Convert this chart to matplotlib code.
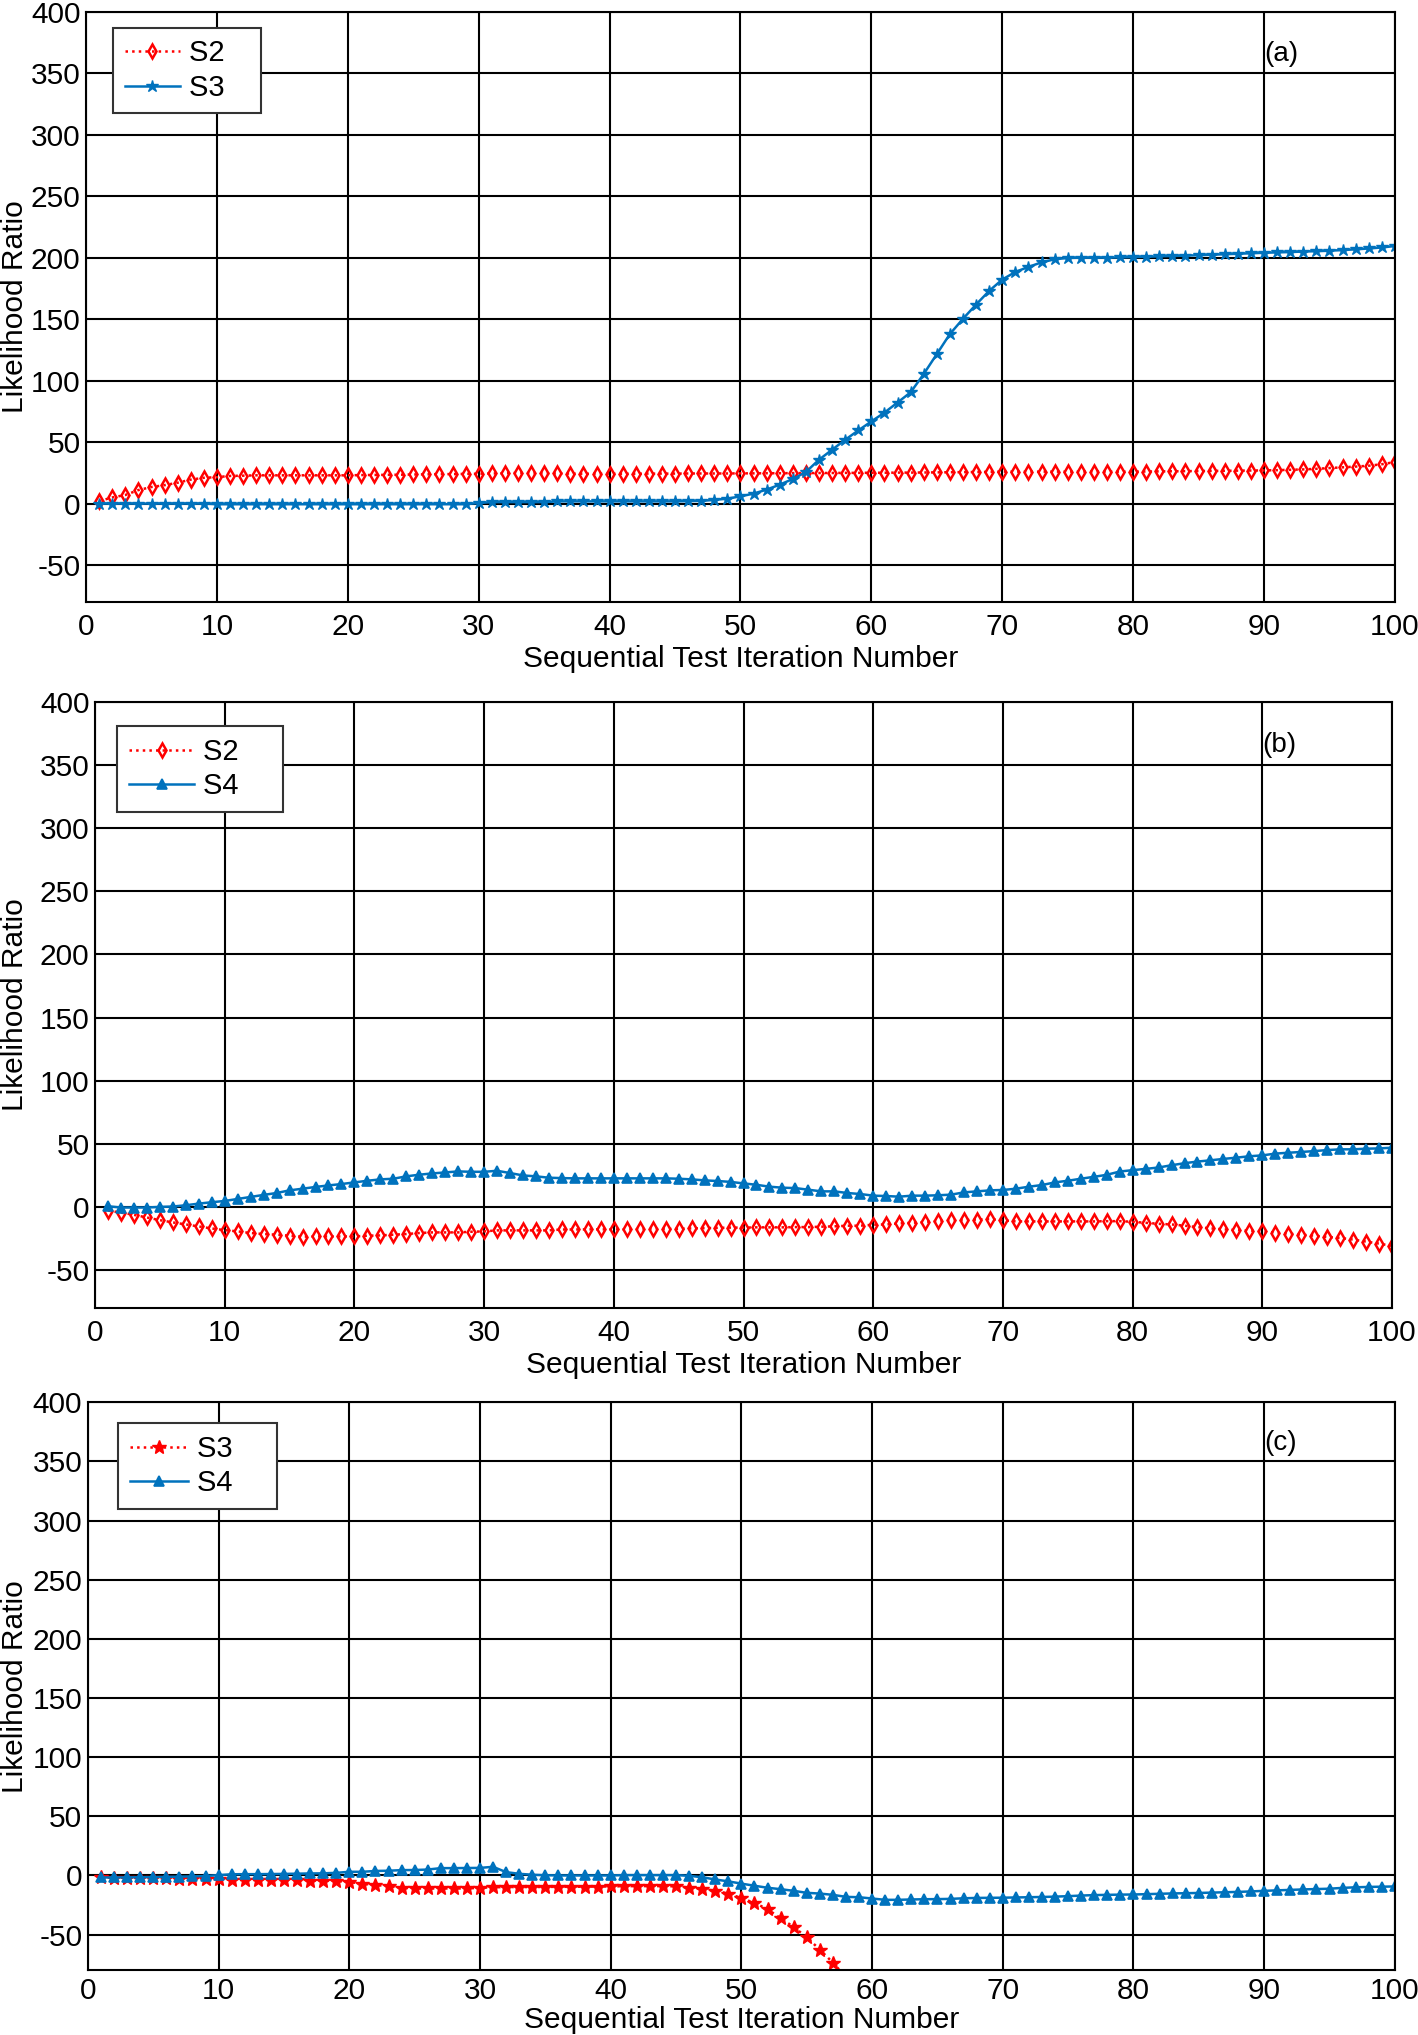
import matplotlib
matplotlib.use('Agg')
import matplotlib.pyplot as plt
import numpy as np

plt.rcParams['font.family'] = ['Liberation Sans', 'DejaVu Sans']
plt.rcParams['axes.unicode_minus'] = False

iters = np.arange(1, 101)

# panel (a)
a_s2 = [2, 5, 7, 11, 13.5, 15, 17, 19.5, 21, 21.5,
        22.5, 22.7, 23, 23, 23, 23, 23, 23, 23, 23,
        23.2, 23.3, 23.4, 23.5, 23.7, 23.8, 24, 24, 24.2, 24.3,
        24.5, 24.7, 25, 24.8, 24.6, 24.5, 24.4, 24.3, 24.3, 24.3,
        24.3, 24.3, 24.4, 24.4, 24.4, 24.5, 24.5, 24.5, 24.5, 24.6,
        24.6, 24.7, 24.7, 24.8, 24.8, 24.9, 24.9, 25, 25, 25.1,
        25.1, 25.2, 25.2, 25.3, 25.4, 25.5, 25.6, 25.7, 25.8, 26,
        26, 26, 26, 26, 26, 26, 26, 26, 26, 26,
        26.1, 26.2, 26.3, 26.4, 26.5, 26.6, 26.7, 26.8, 26.9, 27,
        27.2, 27.5, 27.8, 28.3, 28.9, 29.5, 30.1, 30.8, 32, 33.8]
a_s3 = [0, 0, 0, 0, 0, 0, 0, 0, 0, -0.5,
        -0.5, -0.5, -0.5, -0.5, -0.5, -0.5, -0.5, -0.5, -0.5, -0.5,
        -0.5, -0.5, -0.5, -0.5, -0.5, -0.5, -0.5, -0.5, -0.5, 0.5,
        1.2, 1.2, 1.2, 1.2, 1.2, 1.8, 1.8, 1.8, 1.8, 1.8,
        1.8, 1.8, 1.8, 1.8, 1.8, 2, 2.2, 3, 4, 5.9,
        8.1, 11.4, 15.4, 20, 25.7, 35.7, 43.8, 51.9, 59.5, 66.8,
        74, 82.2, 90.5, 105.4, 121.6, 137.9, 150.3, 161.9, 173, 182.2,
        188.4, 192.5, 196.2, 198.7, 199.8, 200, 200, 200.1, 200.2, 200.5,
        200.8, 201.1, 201.4, 201.7, 202, 202.4, 202.8, 203.2, 203.6, 204,
        204.3, 204.6, 205, 205.3, 205.7, 206.2, 206.8, 207.5, 208.3, 209.5]

# panel (b)
b_s2 = [-2.9, -4.5, -6.3, -8.4, -10.5, -12.3, -13.9, -15.5, -17.1, -18.4,
        -19.4, -20.7, -21.5, -22, -22.8, -23.6, -23.4, -23.4, -23.4, -23.4,
        -22.8, -22.6, -22, -21.5, -20.7, -20.2, -20.2, -20.2, -19.7, -19.4,
        -18.6, -18.6, -18.6, -18.6, -18.6, -17.9, -17.9, -17.8, -17.8, -17.8,
        -17.8, -17.7, -17.6, -17.5, -17.3, -17, -16.8, -16.6, -16.4, -16.4,
        -16.2, -16.2, -16.2, -16, -16, -15.7, -15.4, -14.9, -14.9, -14.1,
        -13.9, -13.1, -12.6, -12, -11.3, -10.7, -10.5, -10, -9.7, -10.7,
        -11.5, -11.5, -11.5, -11.5, -11.5, -11.5, -11.5, -11.3, -11.3, -11.8,
        -12.6, -13.4, -13.9, -14.9, -16, -17, -17.8, -18.3, -18.8, -19.4,
        -20.4, -21.2, -22, -22.8, -23.8, -24.6, -25.9, -27.5, -29.1, -30.9]
b_s4 = [0.5, -0.5, -0.5, -0.5, 0, 0.3, 1.3, 2.6, 3.7, 4.7,
        6.3, 7.9, 9.5, 11, 13.1, 14.4, 15.8, 17, 18.1, 19.4,
        20.7, 21.8, 22.3, 24.2, 25.5, 26.5, 27.3, 28.1, 27.8, 27.8,
        28.6, 26.8, 24.9, 24.2, 23.1, 22.8, 22.6, 22.6, 22.6, 22.6,
        22.6, 22.6, 22.6, 22.6, 22.3, 21.8, 21, 20.5, 19.8, 18.6,
        17.5, 16, 15.2, 14.9, 13.6, 12.3, 12.3, 11, 10.2, 8.9,
        8.6, 8.1, 8.9, 8.9, 9.2, 9.7, 11.5, 12.3, 13.1, 13.4,
        14.4, 16, 17.3, 19.4, 20.7, 22.3, 23.8, 25.4, 28, 29.1,
        30.1, 31.2, 33, 34.6, 35.9, 36.9, 38, 39, 40.1, 40.8,
        42.2, 42.9, 43.5, 44.2, 45, 45.6, 45.6, 46.1, 46.3, 46.9]

# panel (c) - S3 runs off the bottom of the axes after iteration 57
c_s3 = [-1.7, -1.9, -2, -2.2, -2.3, -2.5, -2.6, -2.7, -2.8, -3.4,
        -3.7, -3.9, -3.9, -3.9, -4, -4.1, -4.4, -4.5, -4.6, -5.6,
        -7, -8.1, -9, -10.4, -11, -11, -11, -11, -11, -10.4,
        -10, -9.8, -9.8, -9.8, -9.7, -9.6, -9.6, -9.5, -9.4, -9.3,
        -9.1, -9, -9, -9, -9.2, -10.2, -11.3, -13, -15.3, -19.2,
        -23.2, -28.5, -36.2, -43.5, -52.3, -62.7, -73.7, -86]
c_s4 = [-1.7, -1.7, -1.6, -1.5, -1.4, -1.2, -1, -0.8, -0.5, 0.3,
        1, 1.1, 1.1, 1.2, 1.3, 1.5, 1.7, 1.8, 2.2, 3.1,
        3.1, 3.8, 4, 4.5, 4.6, 5, 6.2, 6.2, 6.3, 6.4,
        7.3, 2.8, 1.4, 0.6, 0.2, 0, 0, 0, 0, 0,
        0.3, 0.3, 0.3, 0.3, 0.3, -0.3, -1.5, -3.4, -5, -6.9,
        -8.7, -10.4, -11.6, -13, -14.7, -15.3, -16.4, -18.1, -18.4, -19.5,
        -20.6, -20.6, -20.3, -20.1, -20, -19.8, -19.3, -19, -18.9, -18.8,
        -18.6, -18.4, -18.2, -17.9, -17.5, -17, -16.6, -16.4, -16.2, -16.1,
        -15.8, -15.5, -15.2, -15, -14.8, -14.5, -14.2, -13.9, -13.5, -13,
        -12.6, -12.2, -11.8, -11.5, -11.2, -10.5, -10, -9.7, -9.5, -9.3]

panel_tags = ['(a)', '(b)', '(c)']

red = '#FF0000'
blue = '#0072BD'
fs = 21.5

fig = plt.figure(figsize=(14.18, 20.35), dpi=100)
ax_a = fig.add_axes([0.0607, 0.7042, 0.923, 0.290])
ax_b = fig.add_axes([0.067, 0.3573, 0.9147, 0.2978])
ax_c = fig.add_axes([0.062, 0.0319, 0.9217, 0.279])

# trailing spaces widen the legend box like the original
ax_a.plot(iters, a_s2, ':', color=red, lw=1.8, marker='d', ms=7,
          mfc='none', mew=1.8, label='S2   ')
ax_a.plot(iters, a_s3, '-', color=blue, lw=1.8, marker='*', ms=9,
          label='S3   ')

ax_b.plot(iters, b_s2, ':', color=red, lw=1.8, marker='d', ms=7,
          mfc='none', mew=1.8, label='S2    ')
ax_b.plot(iters, b_s4, '-', color=blue, lw=1.8, marker='^', ms=7,
          mfc=blue, mew=1.2, label='S4    ')

ax_c.plot(iters[:len(c_s3)], c_s3, ':', color=red, lw=1.8, marker='*',
          ms=10, label='S3    ')
ax_c.plot(iters, c_s4, '-', color=blue, lw=1.8, marker='^', ms=7,
          mfc=blue, mew=1.2, label='S4    ')

leg_pos = [(0.0206, 0.973), (0.017, 0.96), (0.023, 0.963)]
handle_len = [1.9, 2.25, 2.0]
ylab_x = [-0.0435, -0.051, -0.045]
xpad = [8, 8, 5]
xlpad = [3, 3, 1]

for ax, tag, lp, hl, yx, xp, xlp in zip([ax_a, ax_b, ax_c], panel_tags,
                                        leg_pos, handle_len, ylab_x,
                                        xpad, xlpad):
    ax.set_xlim(0, 100)
    ax.set_ylim(-80, 400)
    ax.set_xticks(np.arange(0, 101, 10))
    ax.set_yticks(np.arange(-50, 401, 50))
    ax.grid(True, color='black', lw=1.5, ls='-')
    ax.set_axisbelow(True)
    ax.tick_params(direction='in', length=0, labelsize=fs)
    ax.tick_params(axis='x', pad=xp)
    ax.tick_params(axis='y', pad=4)
    for sp in ax.spines.values():
        sp.set_linewidth(1.5)
        sp.set_color('black')
    ax.set_xlabel('Sequential Test Iteration Number', fontsize=fs,
                  labelpad=xlp)
    ax.set_ylabel('Likelihood Ratio', fontsize=fs)
    ax.yaxis.set_label_coords(yx, 0.5)
    ax.text(90.0, 366, tag, fontsize=20, ha='left', va='center')
    leg = ax.legend(loc='upper left', bbox_to_anchor=lp, borderaxespad=0,
                    fontsize=21, fancybox=False, framealpha=1,
                    edgecolor='#333333', handlelength=hl, labelspacing=0.22,
                    borderpad=0.4, handletextpad=0.3)
    leg.get_frame().set_linewidth(1.5)

plt.savefig('out.png', dpi=100)
